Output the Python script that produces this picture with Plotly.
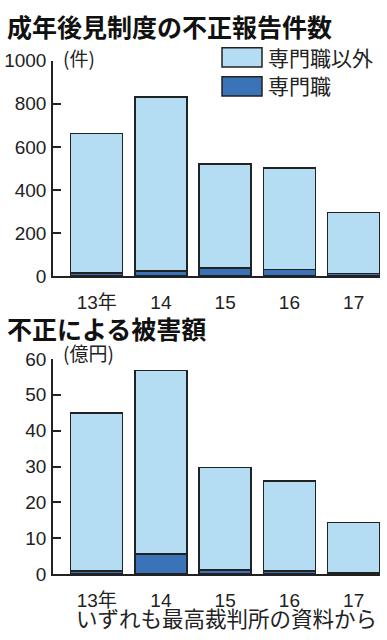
import plotly.graph_objects as go

years = ["13年", "14", "15", "16", "17"]
# 不正報告件数 (件)
cases_pro = [14, 22, 37, 30, 11]
cases_other = [648, 809, 484, 472, 283]
# 被害額 (億円)
dmg_pro = [0.9, 5.6, 1.1, 0.9, 0.5]
dmg_other = [44.0, 51.1, 28.6, 25.1, 13.9]

case_ticks = [0, 200, 400, 600, 800, 1000]
dmg_ticks = [0, 10, 20, 30, 40, 50, 60]

LIGHT = "#b4dcf3"
DARK = "#3a73b8"
EDGE = "#222222"
W, H = 387, 640
NUMFONT = "Liberation Sans, Arial, Noto Sans CJK JP"
JPFONT = "Noto Sans CJK JP"

def py(p):
    return 1 - p / H

def px(p):
    return p / W

fig = go.Figure()
for xa, ya, pro, other in [("x", "y", cases_pro, cases_other), ("x2", "y2", dmg_pro, dmg_other)]:
    fig.add_trace(go.Bar(x=years, y=pro, xaxis=xa, yaxis=ya, width=0.81,
                         marker=dict(color=DARK, line=dict(color=EDGE, width=1.5)), showlegend=False))
    fig.add_trace(go.Bar(x=years, y=other, xaxis=xa, yaxis=ya, width=0.81,
                         marker=dict(color=LIGHT, line=dict(color=EDGE, width=1.5)), showlegend=False))

xdom = [px(53), px(380)]
xcommon = dict(domain=xdom, range=[-0.68, 4.41], showline=True, linecolor=EDGE, linewidth=1.5,
               ticks="", showgrid=False, zeroline=False, fixedrange=True,
               tickfont=dict(family=NUMFONT, size=19, color="#222"), ticklabelstandoff=8)
ycommon = dict(showline=True, linecolor=EDGE, linewidth=1.5, ticks="inside", ticklen=8,
               tickcolor=EDGE, tickwidth=1.5, showgrid=False, zeroline=False,
               tickfont=dict(family=NUMFONT, size=19, color="#222"), ticklabelstandoff=1)

fig.update_layout(
    width=W, height=H, margin=dict(l=0, r=0, t=0, b=0),
    paper_bgcolor="white", plot_bgcolor="white", barmode="stack", bargap=0.2,
    xaxis=dict(**xcommon, anchor="y"),
    yaxis=dict(**ycommon, domain=[py(275), py(52.5)], range=[0, 1000], tickvals=case_ticks, anchor="x"),
    xaxis2=dict(**xcommon, anchor="y2"),
    yaxis2=dict(**ycommon, domain=[py(583.3), py(360.7)], range=[0, 60], tickvals=dmg_ticks, anchor="x2"),
    showlegend=False,
)

ann = [
    dict(text="<b>成年後見制度の不正報告件数</b>", x=px(5), y=py(16.5), xanchor="left", yanchor="middle",
         font=dict(family=JPFONT, size=25, color="#111")),
    dict(text="<b>不正による被害額</b>", x=px(5), y=py(329), xanchor="left", yanchor="middle",
         font=dict(family=JPFONT, size=25, color="#111")),
    dict(text="(件)", x=px(61), y=py(49.5), xanchor="left", yanchor="middle",
         font=dict(family=JPFONT, size=19, color="#222")),
    dict(text="(億円)", x=px(61), y=py(354.5), xanchor="left", yanchor="middle",
         font=dict(family=JPFONT, size=19, color="#222")),
    dict(text="専門職以外", x=px(266), y=py(48.5), xanchor="left", yanchor="middle",
         font=dict(family=JPFONT, size=21, color="#222")),
    dict(text="専門職", x=px(266), y=py(77.5), xanchor="left", yanchor="middle",
         font=dict(family=JPFONT, size=21, color="#222")),
    dict(text="いずれも最高裁判所の資料から", x=px(379), y=py(628), xanchor="right", yanchor="middle",
         font=dict(family=JPFONT, size=21.5, color="#222")),
]
for a in ann:
    a.update(xref="paper", yref="paper", showarrow=False)
fig.update_layout(annotations=ann)

shapes = [
    dict(type="rect", xref="paper", yref="paper", x0=px(222), x1=px(262), y0=py(59), y1=py(39),
         fillcolor=LIGHT, line=dict(color=EDGE, width=1.5)),
    dict(type="rect", xref="paper", yref="paper", x0=px(222), x1=px(262), y0=py(89), y1=py(69),
         fillcolor=DARK, line=dict(color=EDGE, width=1.5)),
]
fig.update_layout(shapes=shapes)

fig.write_html("out.html", config={"displayModeBar": False},
               post_script="document.body.style.margin='0';document.body.style.overflow='hidden';")
